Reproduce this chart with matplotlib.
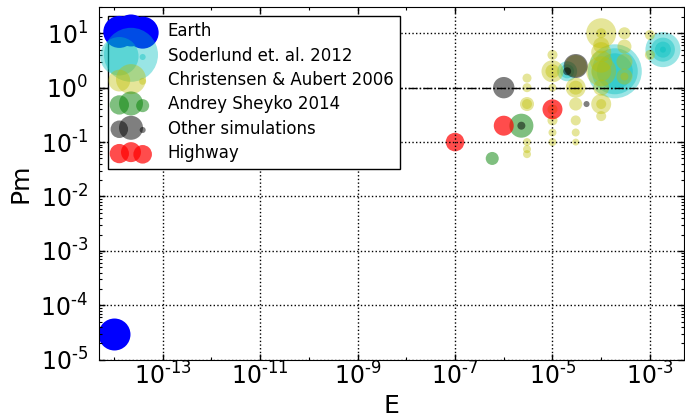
import numpy as np
import matplotlib
matplotlib.use("Agg")
import matplotlib.pyplot as plt
from matplotlib.ticker import FixedLocator, FuncFormatter, NullFormatter

# ---------------- data ----------------
earth_E = [1e-14]
earth_Pm = [3e-5]
earth_size = [530]

soderlund_E = [1.9e-4, 1.9e-4, 1.9e-4, 2e-5, 2e-5, 1.85e-3, 1.85e-3, 1.85e-3, 1.85e-3]
soderlund_Pm = [2.0, 2.0, 2.0, 2.0, 2.0, 5.0, 5.0, 5.0, 5.0]
soderlund_size = [1512, 1097, 672, 207, 102, 635, 299, 133, 19]

christensen_E = [3e-6, 3e-6, 3e-6, 3e-6, 3e-6, 3e-6, 3e-6,
                 1e-5, 1e-5, 1e-5, 1e-5, 1e-5, 1e-5, 1e-5, 1e-5,
                 3e-5, 3e-5, 3e-5, 3e-5, 3e-5, 3e-5, 3e-5,
                 1e-4, 1e-4, 1e-4, 1e-4, 1e-4, 1e-4, 1e-4, 1e-4, 1e-4, 1e-4, 1e-4,
                 3e-4, 3e-4, 3e-4, 3e-4, 3e-4,
                 1e-3, 1e-3]
christensen_Pm = [1.5, 1.0, 0.5, 0.5, 0.1, 0.074, 0.06,
                  4.0, 2.0, 2.0, 1.0, 0.4, 0.25, 0.15, 0.1,
                  2.5, 1.0, 1.0, 0.5, 0.25, 0.15, 0.1,
                  10.0, 10.0, 6.0, 4.5, 3.0, 2.0, 2.0, 1.0, 0.5, 0.5, 0.3,
                  10.0, 5.7, 3.0, 1.6, 1.6,
                  9.3, 4.0]
christensen_size = [42, 42, 102, 52, 33, 33, 33,
                    52, 251, 102, 33, 52, 52, 33, 33,
                    251, 207, 102, 88, 52, 33, 25,
                    467, 52, 133, 207, 251, 467, 207, 133, 207, 52, 52,
                    75, 102, 133, 133, 33,
                    52, 52]

sheyko_E = [2.3e-6, 5.8e-7]
sheyko_Pm = [0.2, 0.05]
sheyko_size = [299, 88]

other_E = [1e-6, 3e-5, 2e-5, 5e-5, 2.3e-6]
other_Pm = [1.0, 2.5, 2.0, 0.5, 0.2]
other_size = [237, 299, 33, 19, 33]

highway_E = [1e-7, 1e-6, 1e-5]
highway_Pm = [0.1, 0.2, 0.4]
highway_size = [179, 207, 207]

labels = ["Earth", "Soderlund et. al. 2012", "Christensen & Aubert 2006",
          "Andrey Sheyko 2014", "Other simulations", "Highway"]

x_major_exp = list(range(-13, -2, 2))
x_minor_exp = list(range(-14, -2, 2))
y_major_exp = list(range(-5, 2))

# ---------------- plot ----------------
plt.rcParams['font.family'] = ['DejaVu Sans']
fig = plt.figure(figsize=(6.85, 4.17), dpi=100)
ax = fig.add_axes([0.145, 0.1374, 0.8535, 0.8451])

ax.scatter(earth_E, earth_Pm, s=earth_size, c='b', alpha=1.0, linewidths=0, label=labels[0])
ax.scatter(soderlund_E, soderlund_Pm, s=soderlund_size, c='c', alpha=0.4, linewidths=0, label=labels[1])
ax.scatter(christensen_E, christensen_Pm, s=christensen_size, c='y', alpha=0.4, linewidths=0, label=labels[2])
ax.scatter(sheyko_E, sheyko_Pm, s=sheyko_size, c='g', alpha=0.5, linewidths=0, label=labels[3])
ax.scatter(other_E, other_Pm, s=other_size, c='k', alpha=0.5, linewidths=0, label=labels[4])
ax.scatter(highway_E, highway_Pm, s=highway_size, c='r', alpha=0.7, linewidths=0, label=labels[5])

ax.axhline(1.0, color='k', ls='-.', lw=1)

ax.set_xscale('log')
ax.set_yscale('log')
ax.set_xlim(5e-15, 5e-3)
ax.set_ylim(1e-5, 30)


def pow_fmt(v, pos):
    k = int(round(np.log10(v)))
    if k < 0:
        return r'$10^{\text{-}%d}$' % (-k)
    return r'$10^{%d}$' % k


ax.xaxis.set_major_locator(FixedLocator([10.0**k for k in x_major_exp]))
ax.xaxis.set_minor_locator(FixedLocator([10.0**k for k in x_minor_exp]))
ax.xaxis.set_major_formatter(FuncFormatter(pow_fmt))
ax.xaxis.set_minor_formatter(NullFormatter())
ax.yaxis.set_major_locator(FixedLocator([10.0**k for k in y_major_exp]))
ax.yaxis.set_minor_locator(FixedLocator([m * 10.0**k for k in y_major_exp for m in range(2, 10)]))
ax.yaxis.set_major_formatter(FuncFormatter(pow_fmt))
ax.yaxis.set_minor_formatter(NullFormatter())

ax.tick_params(which='both', direction='in', top=True, right=True)
ax.tick_params(which='major', length=4, width=1)
ax.tick_params(which='minor', length=2, width=0.8)
ax.tick_params(axis='x', which='major', labelsize=17, pad=2)
ax.tick_params(axis='y', which='major', labelsize=17, pad=8)

ax.grid(True, which='major', color='k', ls=':', lw=1)
ax.set_axisbelow(False)

ax.set_xlabel('E', fontsize=18)
ax.set_ylabel('Pm', fontsize=18)
ax.xaxis.set_label_coords(0.5, -0.098)
ax.yaxis.set_label_coords(-0.115, 0.5)

leg = ax.legend(loc='upper left', scatterpoints=3, fontsize=12, fancybox=False,
                framealpha=1, edgecolor='k', borderaxespad=0.5, handletextpad=1.2,
                labelspacing=0.38)
leg.get_frame().set_linewidth(1)

fig.savefig('out.png', dpi=100)
